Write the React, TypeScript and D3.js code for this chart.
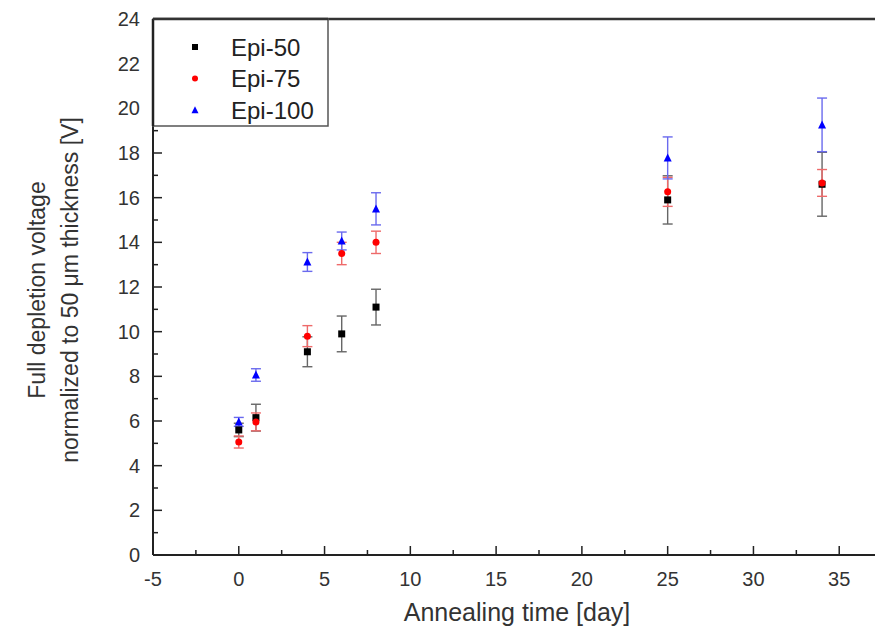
import React from "react";
import * as d3 from "d3";

const days = [0, 1, 4, 6, 8, 25, 34];
const epi50 = [5.6, 6.15, 9.1, 9.9, 11.1, 15.9, 16.6];
const epi50Err = [0.3, 0.6, 0.67, 0.8, 0.8, 1.08, 1.43];
const epi75 = [5.06, 5.96, 9.8, 13.5, 14.0, 16.26, 16.66];
const epi75Err = [0.27, 0.4, 0.47, 0.5, 0.5, 0.65, 0.6];
const epi100 = [5.96, 8.06, 13.12, 14.06, 15.5, 17.78, 19.26];
const epi100Err = [0.2, 0.28, 0.42, 0.4, 0.72, 0.94, 1.2];
const seriesNames = ["Epi-50", "Epi-75", "Epi-100"];
const xTicks = [-5, 0, 5, 10, 15, 20, 25, 30, 35];
const yTicks = [0, 2, 4, 6, 8, 10, 12, 14, 16, 18, 20, 22, 24];

const FONT = "'Liberation Sans', Arial, sans-serif";

export default function App() {
  const W = 875, H = 633;
  const x = d3.scaleLinear().domain([-5, 40]).range([153, 925]);
  const y = d3.scaleLinear().domain([0, 24]).range([555, 19]);
  const series = [
    { name: seriesNames[0], vals: epi50, err: epi50Err, color: "#000000", errColor: "#666666", shape: "square" },
    { name: seriesNames[1], vals: epi75, err: epi75Err, color: "#ff0000", errColor: "#ee6a6a", shape: "circle" },
    { name: seriesNames[2], vals: epi100, err: epi100Err, color: "#0000ff", errColor: "#6a6aee", shape: "triangle" },
  ];
  const marker = (shape: string, cx: number, cy: number, color: string, s: number, key?: any) => {
    if (shape === "square") return <rect key={key} x={cx - s / 2} y={cy - s / 2} width={s} height={s} fill={color} />;
    if (shape === "circle") return <circle key={key} cx={cx} cy={cy} r={s / 2} fill={color} />;
    const h = s;
    return <path key={key} d={`M${cx},${cy - h * 0.55}L${cx + h / 2},${cy + h * 0.45}L${cx - h / 2},${cy + h * 0.45}Z`} fill={color} />;
  };
  const xMinor = d3.range(-5, 40.01, 2.5).filter((v) => v % 5 !== 0);
  const yMinor = d3.range(1, 24, 2);
  const [x0, x1] = x.range();
  const [y0, y1] = y.range();
  return (
    <svg width={W} height={H} style={{ position: "absolute", left: 0, top: 0, background: "#fff" }} fontFamily={FONT}>
      {/* error bars */}
      {series.map((s, si) =>
        s.vals.map((v, i) => {
          const cx = x(days[i]);
          const top = y(v + s.err[i]);
          const bot = y(v - s.err[i]);
          return (
            <g key={`e${si}-${i}`} stroke={s.errColor} strokeWidth={1.4}>
              <line x1={cx} x2={cx} y1={top} y2={bot} />
              <line x1={cx - 5} x2={cx + 5} y1={top} y2={top} />
              <line x1={cx - 5} x2={cx + 5} y1={bot} y2={bot} />
            </g>
          );
        })
      )}
      {/* markers */}
      {series.map((s, si) =>
        s.vals.map((v, i) => marker(s.shape, x(days[i]), y(v), s.color, s.shape === "triangle" ? 8 : 7, `m${si}-${i}`))
      )}
      {/* axes frame */}
      <line x1={x0} x2={x0} y1={y1} y2={y0} stroke="#222" strokeWidth={2} />
      <line x1={x0} x2={x1} y1={y0} y2={y0} stroke="#222" strokeWidth={2} />
      <line x1={x0} x2={x1} y1={y1} y2={y1} stroke="#333" strokeWidth={2.5} />
      {/* x ticks */}
      {xTicks.map((t) => (
        <g key={`xt${t}`}>
          <line x1={x(t)} x2={x(t)} y1={y0} y2={y0 - 9} stroke="#222" strokeWidth={1.5} />
          <text x={x(t)} y={y0 + 31} textAnchor="middle" fontSize={20} fill="#333">{t}</text>
        </g>
      ))}
      {xMinor.map((t) => (
        <line key={`xm${t}`} x1={x(t)} x2={x(t)} y1={y0} y2={y0 - 5} stroke="#222" strokeWidth={1.5} />
      ))}
      {/* y ticks */}
      {yTicks.map((t) => (
        <g key={`yt${t}`}>
          <line x1={x0} x2={x0 + 9} y1={y(t)} y2={y(t)} stroke="#222" strokeWidth={1.5} />
          <text x={x0 - 13} y={y(t)} dy="0.35em" textAnchor="end" fontSize={20} fill="#333">{t}</text>
        </g>
      ))}
      {yMinor.map((t) => (
        <line key={`ym${t}`} x1={x0} x2={x0 + 5} y1={y(t)} y2={y(t)} stroke="#222" strokeWidth={1.5} />
      ))}
      {/* legend */}
      <rect x={x0} y={y1} width={175} height={107} fill="#fff" stroke="#555" strokeWidth={1.5} />
      <line x1={x0} x2={x0} y1={y1} y2={y1 + 107} stroke="#222" strokeWidth={2.5} />
      <line x1={x0} x2={x0 + 175} y1={y1} y2={y1} stroke="#333" strokeWidth={2.5} />
      {series.map((s, i) => (
        <g key={`lg${i}`}>
          {marker(s.shape, 195, 47 + i * 31.5, s.color, s.shape === "triangle" ? 7 : 6)}
          <text x={231} y={47 + i * 31.5} dy="0.36em" fontSize={24} fill="#222">{s.name}</text>
        </g>
      ))}
      {/* axis titles */}
      <text x={517} y={621} textAnchor="middle" fontSize={25} fill="#333">Annealing time [day]</text>
      <g transform="translate(37,290) rotate(-90)">
        <text x={0} y={0} dy="0.35em" textAnchor="middle" fontSize={23} fill="#333">Full depletion voltage</text>
      </g>
      <g transform="translate(70,290) rotate(-90)">
        <text x={0} y={0} dy="0.35em" textAnchor="middle" fontSize={23} fill="#333">normalized to 50 μm thickness [V]</text>
      </g>
    </svg>
  );
}
